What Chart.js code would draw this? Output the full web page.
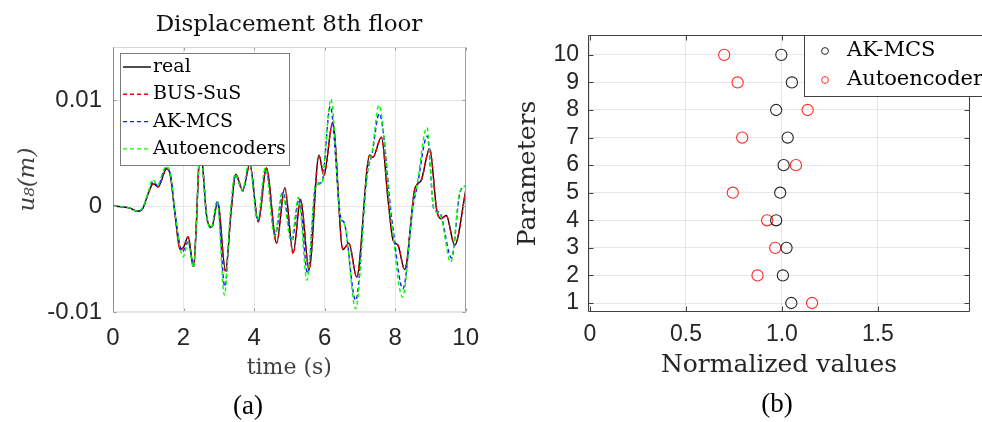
<!DOCTYPE html>
<html>
<head>
<meta charset="utf-8">
<script src="https://cdn.jsdelivr.net/npm/chart.js@4.4.1/dist/chart.umd.min.js"></script>
<style>
  body { margin: 0; background: #fff; width: 982px; height: 422px; position: relative; overflow: hidden; }
  .panel { position: absolute; top: 0; width: 491px; height: 422px; }
  .cap { position: absolute; font-family: "Liberation Serif", serif; font-size: 27px; line-height: 1; transform: translate(-50%, -50%); color: #000; white-space: nowrap; }
  .ttl { position: absolute; font-family: "DejaVu Serif", serif; font-size: 23px; line-height: 1; transform: translate(-50%, -50%); color: #111; white-space: nowrap; }
</style>
</head>
<body>
<div class="panel" style="left:0"><canvas id="dispChart" width="491" height="422"></canvas></div>
<div class="panel" style="left:491px"><canvas id="paramChart" width="491" height="422"></canvas></div>
<div class="ttl" style="left:289px; top:23px">Displacement 8th floor</div>
<div class="cap" style="left:248px; top:405px">(a)</div>
<div class="cap" style="left:777px; top:403px">(b)</div>
<script>
// (a) displacement of the 8th floor, read at turning points of each curve
const realT = [0, 0.48, 0.69, 0.85, 1.0, 1.14, 1.28, 1.52, 1.62, 1.75, 1.9, 2.0, 2.13, 2.28, 2.36, 2.42, 2.48, 2.55, 2.65, 2.8, 2.97, 3.19, 3.35, 3.48, 3.68, 3.88, 4.12, 4.35, 4.64, 4.87, 5.11, 5.32, 5.56, 5.84, 5.98, 6.23, 6.52, 6.69, 6.91, 7.28, 7.37, 7.61, 7.8, 7.94, 8.08, 8.27, 8.55, 8.64, 8.74, 8.98, 9.18, 9.3, 9.45, 9.69, 10.0];
const realU = [0, -0.0002, -0.0005, -0.0002, 0.0012, 0.0021, 0.0018, 0.0035, 0.003, -0.0005, -0.0041, -0.0039, -0.0029, -0.0057, -0.002, 0.003, 0.006, 0.0035, -0.0008, -0.002, 0.0004, -0.0061, -0.0005, 0.003, 0.0015, 0.0039, -0.0015, 0.0036, -0.0035, 0.0017, -0.0044, 0.0006, -0.006, 0.0048, 0.0029, 0.0079, -0.0041, -0.0035, -0.0067, 0.0048, 0.0046, 0.0065, 0.0006, -0.0032, -0.0037, -0.006, 0.0015, 0.0021, 0.0024, 0.0054, -0.0004, -0.0012, -0.0009, -0.0037, 0.0014];

const busT = [0, 0.48, 0.69, 0.85, 1.0, 1.14, 1.28, 1.52, 1.62, 1.75, 1.9, 2.0, 2.13, 2.28, 2.36, 2.42, 2.48, 2.55, 2.65, 2.8, 2.97, 3.19, 3.35, 3.48, 3.68, 3.88, 4.12, 4.35, 4.64, 4.87, 5.11, 5.32, 5.56, 5.84, 5.98, 6.23, 6.52, 6.69, 6.91, 7.28, 7.37, 7.61, 7.8, 7.94, 8.08, 8.27, 8.55, 8.64, 8.74, 8.98, 9.18, 9.3, 9.45, 9.69, 10.0];
const busU = [0, -0.0002, -0.0005, -0.0002, 0.0012, 0.0021, 0.0018, 0.0035, 0.003, -0.0005, -0.0041, -0.0039, -0.0029, -0.0057, -0.002, 0.003, 0.006, 0.0035, -0.0008, -0.002, 0.0004, -0.0062, -0.0005, 0.003, 0.0015, 0.0039, -0.0015, 0.0036, -0.0035, 0.0017, -0.0045, 0.0006, -0.006, 0.0048, 0.0029, 0.0078, -0.0041, -0.0035, -0.0067, 0.0048, 0.0046, 0.0065, 0.0006, -0.0032, -0.0037, -0.006, 0.0015, 0.0021, 0.0024, 0.0054, -0.0004, -0.0012, -0.0009, -0.0037, 0.0014];

const akT = [0, 0.48, 0.69, 0.85, 1.0, 1.13, 1.27, 1.5, 1.62, 1.75, 1.88, 1.97, 2.13, 2.29, 2.36, 2.42, 2.48, 2.55, 2.65, 2.79, 2.96, 3.17, 3.34, 3.47, 3.68, 3.87, 4.11, 4.33, 4.6, 4.82, 5.07, 5.28, 5.52, 5.76, 5.92, 6.16, 6.46, 6.56, 6.88, 7.2, 7.35, 7.55, 7.92, 8.22, 8.51, 8.63, 8.91, 9.1, 9.26, 9.6, 9.84, 10.0];
const akU = [0, -0.0002, -0.0005, -0.0002, 0.0012, 0.0023, 0.0019, 0.0036, 0.0031, -0.0004, -0.0034, -0.0043, -0.0034, -0.0057, -0.002, 0.003, 0.0061, 0.0035, -0.0008, -0.0021, 0.0004, -0.0076, -0.0005, 0.0029, 0.0014, 0.0041, -0.0014, 0.0036, -0.0027, 0.0013, -0.0033, 0.0007, -0.0064, 0.0021, 0.0022, 0.0094, -0.0011, -0.0016, -0.0089, 0.0028, 0.005, 0.0087, -0.0016, -0.0078, 0.0, 0.0019, 0.0066, -0.0003, -0.0006, -0.0049, 0.0013, 0.0019];

const aeT = [0, 0.48, 0.69, 0.85, 1.0, 1.12, 1.26, 1.5, 1.62, 1.75, 1.88, 1.99, 2.13, 2.28, 2.36, 2.42, 2.48, 2.55, 2.65, 2.78, 2.95, 3.16, 3.33, 3.46, 3.67, 3.86, 4.1, 4.32, 4.58, 4.8, 5.05, 5.26, 5.5, 5.75, 5.91, 6.18, 6.45, 6.57, 6.88, 7.2, 7.35, 7.54, 7.9, 8.21, 8.5, 8.62, 8.9, 9.1, 9.26, 9.58, 9.83, 10.0];
const aeU = [0, -0.0002, -0.0005, -0.0001, 0.0013, 0.0025, 0.002, 0.0037, 0.0032, -0.0003, -0.0035, -0.0048, -0.0035, -0.0058, -0.002, 0.003, 0.0062, 0.0035, -0.0008, -0.0021, 0.0005, -0.0084, -0.0005, 0.003, 0.0015, 0.0042, -0.0013, 0.0036, -0.0028, 0.0013, -0.0033, 0.0008, -0.007, 0.002, 0.0021, 0.0101, -0.0012, -0.0018, -0.0097, 0.0028, 0.0052, 0.0095, -0.0015, -0.0086, 0.0, 0.002, 0.0074, -0.0003, -0.0007, -0.0053, 0.0013, 0.0019];

// (b) normalized parameter values
const paramIdx = [1, 2, 3, 4, 5, 6, 7, 8, 9, 10];
const akParams = [1.049, 1.005, 1.024, 0.970, 0.991, 1.009, 1.030, 0.970, 1.052, 0.997];
const aeParams = [1.157, 0.873, 0.965, 0.923, 0.744, 1.073, 0.793, 1.134, 0.769, 0.699];

const toXY = (xs, ys) => xs.map((x, i) => ({ x: x, y: ys[i] }));

Chart.defaults.font.family = "DejaVu Serif";
Chart.defaults.color = "#262626";

// white legend box drawn on top of the data, like the MATLAB one
const boxLegend = {
  id: "boxLegend",
  afterDraw(chart, args, o) {
    const ctx = chart.ctx;
    ctx.save();
    ctx.fillStyle = "#fff";
    ctx.fillRect(o.x, o.y, o.w, o.h);
    ctx.strokeStyle = o.edge;
    ctx.lineWidth = 1;
    ctx.strokeRect(o.x + 0.5, o.y + 0.5, o.w, o.h);
    ctx.font = o.font;
    ctx.textBaseline = "middle";
    chart.data.datasets.forEach((ds, i) => {
      const y = o.y + o.first + i * o.step;
      ctx.strokeStyle = ds.borderColor;
      if (o.kind === "line") {
        ctx.lineWidth = ds.borderWidth;
        ctx.setLineDash(ds.borderDash || []);
        ctx.beginPath();
        ctx.moveTo(o.x + o.s0, y);
        ctx.lineTo(o.x + o.s1, y);
        ctx.stroke();
        ctx.setLineDash([]);
      } else {
        ctx.lineWidth = 1;
        ctx.beginPath();
        ctx.arc(o.x + o.s0, y, 3.4, 0, Math.PI * 2);
        ctx.stroke();
      }
      ctx.fillStyle = "#000";
      ctx.fillText(ds.label, o.x + o.tx, y);
    });
    ctx.restore();
  }
};

// axes box with inward tick marks
const frame = {
  id: "frame",
  afterDatasetsDraw(chart, args, o) {
    const { ctx, chartArea: a, scales } = chart;
    ctx.save();
    ctx.lineWidth = 1;
    const line = (c, x0, y0, x1, y1) => {
      ctx.strokeStyle = c;
      ctx.beginPath();
      ctx.moveTo(x0, y0);
      ctx.lineTo(x1, y1);
      ctx.stroke();
    };
    const L = Math.round(a.left) + 0.5, R = Math.round(a.right) - 0.5;
    const T = Math.round(a.top) + 0.5, B = Math.round(a.bottom) - 0.5;
    scales.x.ticks.forEach((t) => {
      const px = Math.round(scales.x.getPixelForValue(t.value)) + 0.5;
      line(o.tick, px, B, px, B - o.len);
      line(o.tick, px, T, px, T + o.len);
    });
    scales.y.ticks.forEach((t) => {
      const py = Math.round(scales.y.getPixelForValue(t.value)) + 0.5;
      line(o.tick, L, py, L + o.len, py);
      line(o.tick, R, py, R - o.len, py);
    });
    line(o.top, L, T, R, T);
    line(o.bottom, L, B, R, B);
    line(o.left, L, T, L, B);
    line(o.right, R, T, R, B);
    ctx.restore();
  }
};

// Create the displacement chart
new Chart(document.getElementById("dispChart"), {
  type: "line",
  data: {
    datasets: [
      { label: "real", data: toXY(realT, realU), borderColor: "#000000", borderWidth: 1.4, order: 4 },
      { label: "BUS-SuS", data: toXY(busT, busU), borderColor: "#ff0000", borderWidth: 1.4, borderDash: [4, 3], order: 3 },
      { label: "AK-MCS", data: toXY(akT, akU), borderColor: "#1a1aff", borderWidth: 1.4, borderDash: [4, 3], order: 2 },
      { label: "Autoencoders", data: toXY(aeT, aeU), borderColor: "#00ff00", borderWidth: 1.4, borderDash: [4, 3], order: 1 },
    ],
  },
  options: {
    responsive: false,
    animation: false,
    elements: { point: { radius: 0 }, line: { cubicInterpolationMode: "monotone" } },
    layout: { padding: { left: 0, right: 25, top: 47, bottom: 0 } },
    plugins: {
      legend: { display: false },
      tooltip: { enabled: false },
      boxLegend: { x: 120, y: 53, w: 169, h: 112, first: 14, step: 27.3, s0: 3, s1: 31, tx: 33, kind: "line", edge: "#7a7a7a", font: "19px 'DejaVu Serif'" },
      frame: { len: 3, tick: "#9a9a9a", left: "#8a8a8a", right: "#a0a0a0", top: "#d8d8d8", bottom: "#e4e4e4" },
    },
    scales: {
      x: {
        type: "linear",
        min: 0,
        max: 10,
        ticks: { stepSize: 2, padding: 12, color: "#262626", font: { family: "Liberation Sans", size: 24 } },
        grid: { color: "#e6e6e6", drawTicks: false },
        border: { display: false },
        title: { display: true, text: "time (s)", color: "#404040", font: { family: "DejaVu Serif", size: 22 }, padding: { top: 0, bottom: 41 } },
        afterFit: (s) => { s.height = 110; },
      },
      y: {
        type: "linear",
        min: -0.01,
        max: 0.015,
        ticks: {
          stepSize: 0.01,
          includeBounds: false,
          padding: 11,
          color: "#262626",
          font: { family: "Liberation Sans", size: 24 },
          callback: (v) => (Math.abs(v) < 1e-9 ? "0" : v.toFixed(2)),
        },
        grid: { color: "#e6e6e6", drawTicks: false },
        border: { display: false },
        title: { display: true, text: "u₈(m)", color: "#404040", font: { family: "DejaVu Serif", size: 23, style: "italic" }, padding: { top: 14, bottom: 0 } },
        afterFit: (s) => { s.width = 113; },
      },
    },
  },
  plugins: [frame, boxLegend],
});

// Create the parameter scatter chart
new Chart(document.getElementById("paramChart"), {
  type: "scatter",
  data: {
    datasets: [
      { label: "AK-MCS", data: toXY(akParams, paramIdx), borderColor: "#262626", backgroundColor: "rgba(0,0,0,0)", pointRadius: 5.6, pointBorderWidth: 1.1 },
      { label: "Autoencoder", data: toXY(aeParams, paramIdx), borderColor: "#ff2a2a", backgroundColor: "rgba(0,0,0,0)", pointRadius: 5.6, pointBorderWidth: 1.1 },
    ],
  },
  options: {
    responsive: false,
    animation: false,
    layout: { padding: { left: 0, right: 12, top: 35, bottom: 0 } },
    plugins: {
      legend: { display: false },
      tooltip: { enabled: false },
      boxLegend: { x: 313, y: 35, w: 190, h: 61, first: 16, step: 29, s0: 21, tx: 43, kind: "marker", edge: "#404040", font: "21px 'DejaVu Serif'" },
      frame: { len: 5, tick: "#404040", left: "#404040", right: "#404040", top: "#404040", bottom: "#404040" },
    },
    scales: {
      x: {
        type: "linear",
        min: -0.0104,
        max: 1.98,
        ticks: { stepSize: 0.5, includeBounds: false, padding: 9, color: "#262626", font: { family: "Liberation Sans", size: 23 } },
        grid: { color: "#e6e6e6", drawTicks: false },
        border: { display: false },
        title: { display: true, text: "Normalized values", color: "#262626", font: { family: "DejaVu Serif", size: 25 }, padding: { top: 0, bottom: 42 } },
        afterFit: (s) => { s.height = 110; },
      },
      y: {
        type: "linear",
        min: 0.674,
        max: 10.72,
        ticks: { stepSize: 1, includeBounds: false, padding: 9, color: "#262626", font: { family: "Liberation Sans", size: 23 } },
        grid: { color: "#e6e6e6", drawTicks: false },
        border: { display: false },
        title: { display: true, text: "Parameters", color: "#262626", font: { family: "DejaVu Serif", size: 25 }, padding: { top: 22, bottom: 0 } },
        afterFit: (s) => { s.width = 97; },
      },
    },
  },
  plugins: [frame, boxLegend],
});
</script>
</body>
</html>
